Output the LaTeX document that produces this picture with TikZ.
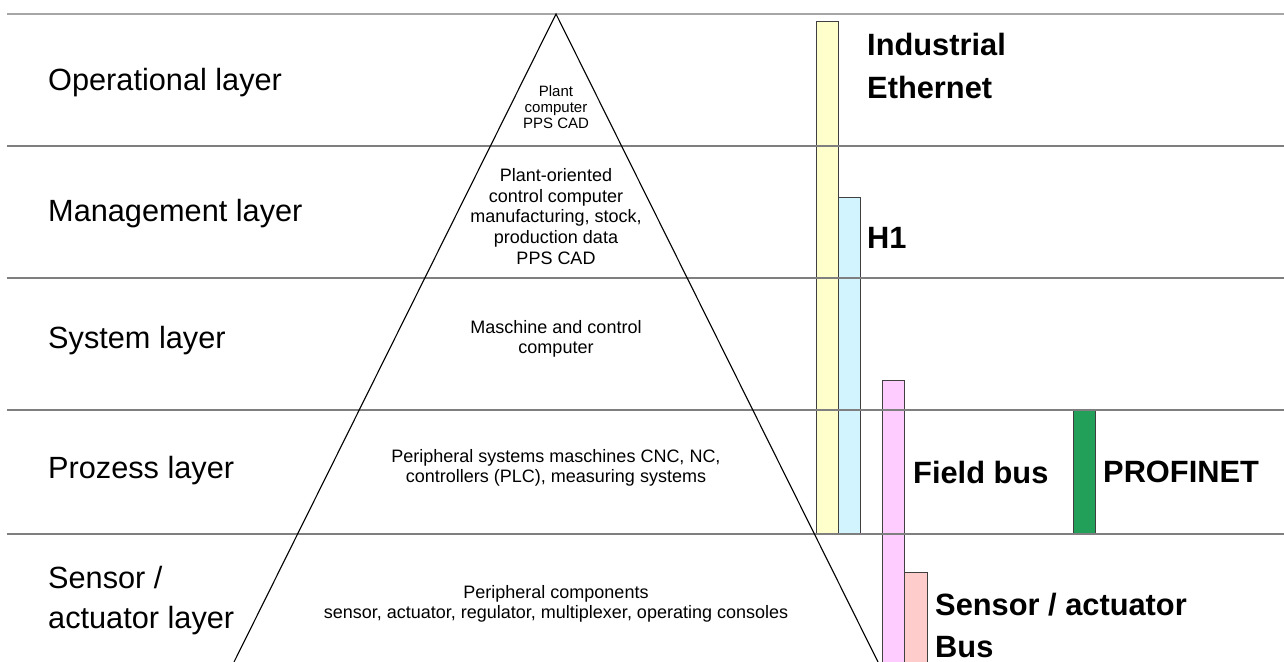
\documentclass[tikz,border=0pt]{standalone}
\usepackage{fontspec}
\setmainfont{Liberation Sans}
\definecolor{topline}{HTML}{A6A6A6}
\definecolor{sepline}{HTML}{7F7F7F}
\definecolor{ieyellow}{HTML}{FFFFCC}
\definecolor{hcyan}{HTML}{D2F4FF}
\definecolor{fbpink}{HTML}{FFCCFF}
\definecolor{sasalmon}{HTML}{FFCCCC}
\definecolor{pngreen}{HTML}{22A05A}
\begin{document}
\begin{tikzpicture}[x=1pt,y=-1pt,
  layerlbl/.style={anchor=base west, inner sep=0pt, font=\fontsize{30.7}{34}\selectfont},
  buslbl/.style={anchor=base west, inner sep=0pt, font=\fontsize{30.8}{34}\selectfont\bfseries},
  pyr/.style={anchor=base, inner sep=0pt, font=\fontsize{18}{20}\selectfont},
  pyrsmall/.style={anchor=base, inner sep=0pt, font=\fontsize{15}{16}\selectfont},
  bar/.style={draw=black!75, line width=0.9pt},
  sep/.style={draw=sepline, line width=1.2pt},
  tri/.style={draw=black, line width=1.1pt}
]
\useasboundingbox (0,0) rectangle (1284,661);
\clip (0,0) rectangle (1284,661);
% bars
\path[bar, fill=ieyellow] (816,21) rectangle (838,534);
\path[bar, fill=hcyan] (838,197) rectangle (860,534);
\path[bar, fill=fbpink] (882,380) rectangle (904,670);
\path[bar, fill=sasalmon] (904,572) rectangle (927,670);
\path[bar, fill=pngreen] (1073,410) rectangle (1095,534);
% layer separators
\draw[draw=topline, line width=2.2pt] (7,14) -- (1284,14);
\draw[sep] (7,146) -- (1284,146);
\draw[sep] (7,278) -- (1284,278);
\draw[sep] (7,410) -- (1284,410);
\draw[sep] (7,534) -- (1284,534);
% pyramid
\coordinate (apex) at (556,14);
\coordinate (bl) at (234,662);
\coordinate (br) at (878,662);
\draw[tri] (bl) -- (apex) -- (br);
% layer labels
\node[layerlbl] (op) at (48,90) {Operational layer};
\node[layerlbl] (mg) at (48,221) {Management layer};
\node[layerlbl] (sy) at (48,348) {System layer};
\node[layerlbl] (pr) at (48,478) {Prozess layer};
\node[layerlbl] (sa1) at (48,588) {Sensor /};
\node[layerlbl] (sa2) at (48,628) {actuator layer};
% pyramid texts
\node[pyrsmall] (t1a) at (556,96) {Plant};
\node[pyrsmall] (t1b) at (556,112) {computer};
\node[pyrsmall] (t1c) at (556,128) {PPS CAD};
\node[pyr] (t2a) at (556,181) {Plant-oriented};
\node[pyr] (t2b) at (556,202) {control computer};
\node[pyr] (t2c) at (556,222.5) {manufacturing, stock,};
\node[pyr] (t2d) at (556,243) {production data};
\node[pyr] (t2e) at (556,264) {PPS CAD};
\node[pyr] (t3a) at (556,333) {Maschine and control};
\node[pyr] (t3b) at (556,353) {computer};
\node[pyr] (t4a) at (556,462) {Peripheral systems maschines CNC, NC,};
\node[pyr] (t4b) at (556,482) {controllers (PLC), measuring systems};
\node[pyr] (t5a) at (556,598) {Peripheral components};
\node[pyr] (t5b) at (556,618) {sensor, actuator, regulator, multiplexer, operating consoles};
% bus labels
\node[buslbl] (ie1) at (867,56) {Industrial};
\node[buslbl] (ie2) at (867,98) {Ethernet};
\node[buslbl] (h1) at (867,248) {H1};
\node[buslbl] (fb) at (913,483) {Field bus};
\node[buslbl] (pn) at (1103,482) {PROFINET};
\node[buslbl] (sab1) at (935,615) {Sensor / actuator};
\node[buslbl] (sab2) at (935,657) {Bus};
\end{tikzpicture}
\end{document}
